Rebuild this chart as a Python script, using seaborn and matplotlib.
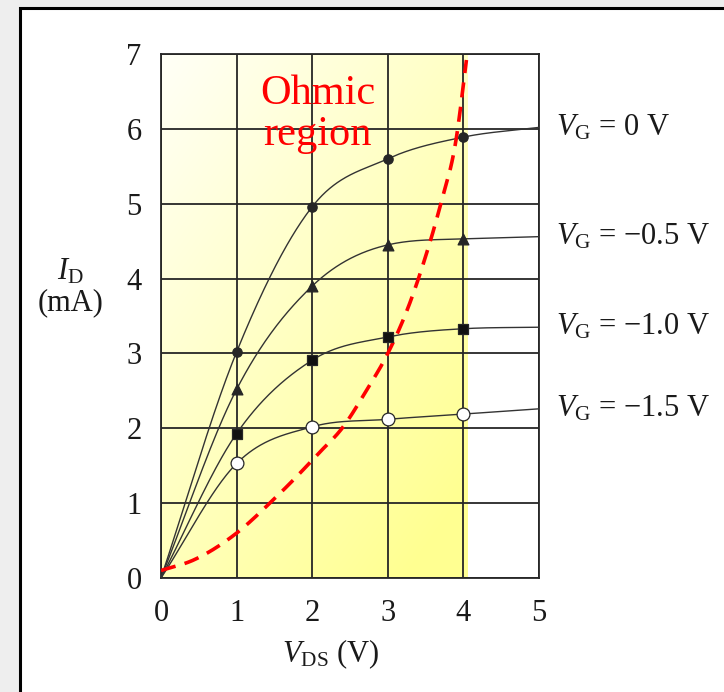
import numpy as np
import pandas as pd
import matplotlib
matplotlib.use("Agg")
import matplotlib.pyplot as plt
from matplotlib.patches import Rectangle
import seaborn as sns

# Measured drain characteristics of a JFET
vds = [1, 2, 3, 4]
vg_values = ["0", "\u22120.5", "\u22121.0", "\u22121.5"]
id_vg_0 = [3.02, 4.96, 5.60, 5.89]
id_vg_m05 = [2.52, 3.90, 4.45, 4.53]
id_vg_m10 = [1.93, 2.91, 3.22, 3.33]
id_vg_m15 = [1.53, 2.02, 2.12, 2.19]
id_at_5v = [6.02, 4.56, 3.35, 2.26]

# Boundary of the ohmic region (pinch-off locus)
pinch_vds = [0.0, 0.43, 1.0, 1.48, 1.79, 2.06, 2.41, 2.72, 3.00, 3.29, 3.47, 3.69, 3.91, 4.04]
pinch_id = [0.10, 0.24, 0.60, 1.04, 1.35, 1.64, 2.02, 2.51, 3.00, 3.67, 4.20, 4.96, 5.90, 6.92]

ohmic_edge = 4.06


def smooth_curve(x, y, n=400):
    """Monotone cubic Hermite curve through the points (Fritsch-Carlson limited)."""
    x = np.asarray(x, float)
    y = np.asarray(y, float)
    h = np.diff(x)
    d = np.diff(y) / h
    m = np.empty_like(y)
    m[0] = d[0]
    m[-1] = d[-1]
    for k in range(1, len(x) - 1):
        m[k] = (h[k] * d[k - 1] + h[k - 1] * d[k]) / (h[k] + h[k - 1])
    for k in range(len(d)):
        if d[k] == 0:
            m[k] = m[k + 1] = 0.0
            continue
        a = m[k] / d[k]
        b = m[k + 1] / d[k]
        r = a * a + b * b
        if r > 9:
            tau = 3 / np.sqrt(r)
            m[k] = tau * a * d[k]
            m[k + 1] = tau * b * d[k]
    xs = np.linspace(x[0], x[-1], n)
    idx = np.clip(np.searchsorted(x, xs) - 1, 0, len(h) - 1)
    t = (xs - x[idx]) / h[idx]
    h00 = 2 * t**3 - 3 * t**2 + 1
    h10 = t**3 - 2 * t**2 + t
    h01 = -2 * t**3 + 3 * t**2
    h11 = t**3 - t**2
    ys = (h00 * y[idx] + h10 * h[idx] * m[idx] + h01 * y[idx + 1]
          + h11 * h[idx] * m[idx + 1])
    return xs, ys


sns.set_style("white")
plt.rcParams["font.family"] = ["Liberation Serif", "DejaVu Serif"]
plt.rcParams["mathtext.fontset"] = "custom"
plt.rcParams["mathtext.rm"] = "Liberation Serif"
plt.rcParams["mathtext.it"] = "Liberation Serif:italic"

ink = "#262626"
text_ink = "#1a1a1a"

fig = plt.figure(figsize=(7.24, 6.92), dpi=100, facecolor="#eeeeee")

# White card with a black border behind the chart
card = fig.add_axes([0, 0, 1, 1], zorder=-10)
card.set_axis_off()
card.set_xlim(0, 724)
card.set_ylim(692, 0)
card.add_patch(Rectangle((20, 7.5), 740, 720, facecolor="white",
                         edgecolor="black", linewidth=2.2))

ax = fig.add_axes([161 / 724, 1 - 578 / 692, 378 / 724, 524 / 692])
ax.set_facecolor("none")

# Yellow shading of the ohmic region, brighter toward the lower right
gx, gy = np.meshgrid(np.linspace(0, 1, 200), np.linspace(0, 1, 200))
t = np.clip(0.5 * gx + 0.6 * gy, 0, 1)
pale = np.array([1.0, 1.0, 0.97])
deep = np.array([1.0, 1.0, 0.57])
img = pale[None, None, :] * (1 - t[..., None]) + deep[None, None, :] * t[..., None]
ax.imshow(img, extent=[0, ohmic_edge, 0, 7], origin="upper", aspect="auto",
          interpolation="bilinear", zorder=0.1)

ax.set_xlim(0, 5)
ax.set_ylim(0, 7)
ax.set_xticks(range(6))
ax.set_yticks(range(8))
ax.grid(True, color=ink, linewidth=1.3)
ax.set_axisbelow(True)
for s in ax.spines.values():
    s.set_color(ink)
    s.set_linewidth(1.3)
ax.tick_params(axis="both", length=0, labelsize=22, colors=text_ink)
ax.tick_params(axis="x", pad=15)
ax.tick_params(axis="y", pad=14)

series = [id_vg_0, id_vg_m05, id_vg_m10, id_vg_m15]
markers = ["o", "^", "s", "o"]
sizes = [45, 60, 50, 85]
faces = [ink, ink, "#111111", "white"]

for vals, end, mk, sz, fc, vg in zip(series, id_at_5v, markers, sizes, faces, vg_values):
    cx, cy = smooth_curve([0] + vds + [5], [0] + vals + [end])
    sns.lineplot(x=cx, y=cy, ax=ax, color="#333333", linewidth=1.0, sort=False,
                 zorder=3, legend=False)
    sns.scatterplot(x=vds, y=vals, ax=ax, marker=mk, s=sz, color=fc,
                    edgecolor=ink, linewidth=0.9, zorder=5, legend=False)
    ax.text(5.22, end, r"$V_{\mathrm{G}}$" + f" = {vg} V", fontsize=22,
            ha="left", va="center", color=text_ink, clip_on=False)

px, py = smooth_curve(pinch_vds, pinch_id)
red = sns.lineplot(x=px, y=py, ax=ax, color="#ff0000", linewidth=2.6, sort=False,
                   zorder=4, legend=False)
red.lines[-1].set_dashes((4.2, 2.6))

ax.text(2.08, 6.33, "Ohmic", color="#ff0000", fontsize=30.5, ha="center", va="baseline")
ax.text(2.07, 5.78, "region", color="#ff0000", fontsize=30.5, ha="center", va="baseline")

ax.set_xlabel(r"$V_{\mathrm{DS}}$ (V)", fontsize=22, color=text_ink)
ax.xaxis.set_label_coords(0.45, -0.16)
ax.xaxis.label.set_va("baseline")
ax.set_ylabel(r"$I_{\mathrm{D}}$" + "\n(mA)", fontsize=22, color=text_ink,
              rotation=0, ha="center", va="center", linespacing=1.05)
ax.yaxis.set_label_coords(-0.24, 0.555)

fig.savefig("out.png", dpi=100, facecolor=fig.get_facecolor())
